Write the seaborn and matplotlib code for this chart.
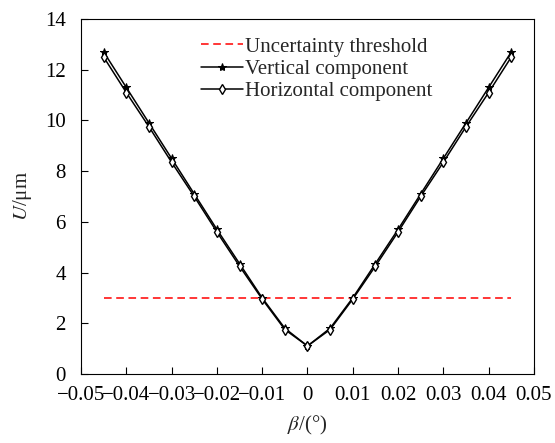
import numpy as np
import pandas as pd
import matplotlib.pyplot as plt
import seaborn as sns

# ---------- data ----------
beta = [-0.045, -0.04, -0.035, -0.03, -0.025, -0.02, -0.015, -0.01, -0.005, 0.0,
        0.005, 0.01, 0.015, 0.02, 0.025, 0.03, 0.035, 0.04, 0.045]
vertical = [12.7, 11.3, 9.9, 8.5, 7.1, 5.7, 4.35, 3.0, 1.8, 1.1,
            1.8, 3.0, 4.35, 5.7, 7.1, 8.5, 9.9, 11.3, 12.7]
horizontal = [12.5, 11.1, 9.75, 8.35, 7.0, 5.6, 4.25, 2.95, 1.75, 1.1,
              1.75, 2.95, 4.25, 5.6, 7.0, 8.35, 9.75, 11.1, 12.5]
threshold_x = [-0.045, 0.045]
threshold_y = [3.0, 3.0]

df = pd.DataFrame({'beta': beta, 'Vertical': vertical, 'Horizontal': horizontal})
thr = pd.DataFrame({'beta': threshold_x, 'U': threshold_y})

sns.set_style('ticks')
plt.rcParams['font.family'] = ['Liberation Serif', 'DejaVu Serif']
plt.rcParams['mathtext.fontset'] = 'stix'

fig = plt.figure(figsize=(5.55, 4.43), dpi=100)
ax = fig.add_axes([0.146, 0.156, 0.816, 0.801])

sns.lineplot(data=thr, x='beta', y='U', ax=ax, color='red', linestyle=(0, (5, 3)),
             linewidth=1.1, label='Uncertainty threshold')
sns.lineplot(data=df, x='beta', y='Vertical', ax=ax, color='black', linewidth=1.1,
             marker='*', markersize=6, markeredgecolor='black', markerfacecolor='black',
             label='Vertical component')
sns.lineplot(data=df, x='beta', y='Horizontal', ax=ax, color='black', linewidth=1.1,
             marker='d', markersize=5.5, markeredgecolor='black', markerfacecolor='white',
             markeredgewidth=1.0, label='Horizontal component')

ax.set_xlim(-0.05, 0.05)
ax.set_ylim(0, 14)
ax.set_xticks(np.arange(-0.05, 0.0501, 0.01))
ax.set_xticklabels(['\u22120.05', '\u22120.04', '\u22120.03', '\u22120.02', '\u22120.01', '0',
                    '0.01', '0.02', '0.03', '0.04', '0.05'])
ax.set_yticks(range(0, 15, 2))
ax.tick_params(direction='in', length=5, width=0.8, labelsize=15, colors='black',
               top=False, right=False)
ax.tick_params(axis='y', pad=11)
ax.tick_params(axis='x', pad=9)
for s in ax.spines.values():
    s.set_color('black')
    s.set_linewidth(0.8)

ax.set_xlabel(r'$\beta$/(°)', fontsize=15, labelpad=6)
ax.set_ylabel(r'$U$/μm', fontsize=15, labelpad=8)

ax.legend(loc='upper center', bbox_to_anchor=(0.52, 0.99), frameon=False, fontsize=15,
          handlelength=2.0, handletextpad=0.1, labelspacing=0.12, borderpad=0.2)

fig.savefig('out.png', dpi=100)
